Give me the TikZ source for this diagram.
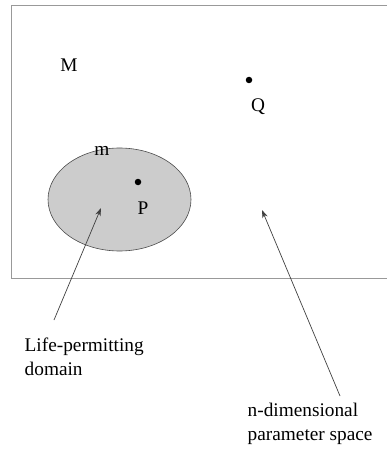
\documentclass[tikz,border=0pt]{standalone}
\usepackage{fontspec}
\setmainfont{Liberation Serif}
\usetikzlibrary{arrows.meta,shapes.geometric}
\begin{document}
\begin{tikzpicture}[x=1pt,y=-1pt,
  lbl/.style={inner sep=0pt,font=\fontsize{19.3}{23.5}\selectfont},
  pdot/.style={circle,fill=black,inner sep=0pt,minimum size=6.5pt},
  arr/.style={draw=black!75,line width=0.7pt,-{Stealth[length=8pt,width=5.5pt]}}]
\useasboundingbox (0,0) rectangle (386,449);
% frame
\draw[gray!80,line width=1pt] (387,6) -- (11.5,6) -- (11.5,278.5) -- (387,278.5);
% domain ellipse
\node[ellipse,draw=black!70,fill=black!20,line width=0.6pt,minimum width=143pt,minimum height=103pt,inner sep=0pt] (dom) at (119.5,199.5) {};
% dots
\node[pdot] (p) at (138,182) {};
\node[pdot] (q) at (249,80) {};
% labels
\node[lbl] (M) at (69,65) {M};
\node[lbl] (Q) at (258,107) {Q};
\node[lbl] (m) at (102,151) {m};
\node[lbl] (P) at (143,208) {P};
\node[lbl,anchor=north west,align=left] (life) at (24.5,338) {Life-permitting\\domain};
\node[lbl,anchor=north west,align=left] (space) at (247.5,403) {n-dimensional\\parameter space};
% arrows
\coordinate (lt) at (54,320);
\coordinate (lh) at (101,208);
\coordinate (st) at (340,396);
\coordinate (sh) at (262,210);
\draw[arr] (lt) -- (lh);
\draw[arr] (st) -- (sh);
\end{tikzpicture}
\end{document}
